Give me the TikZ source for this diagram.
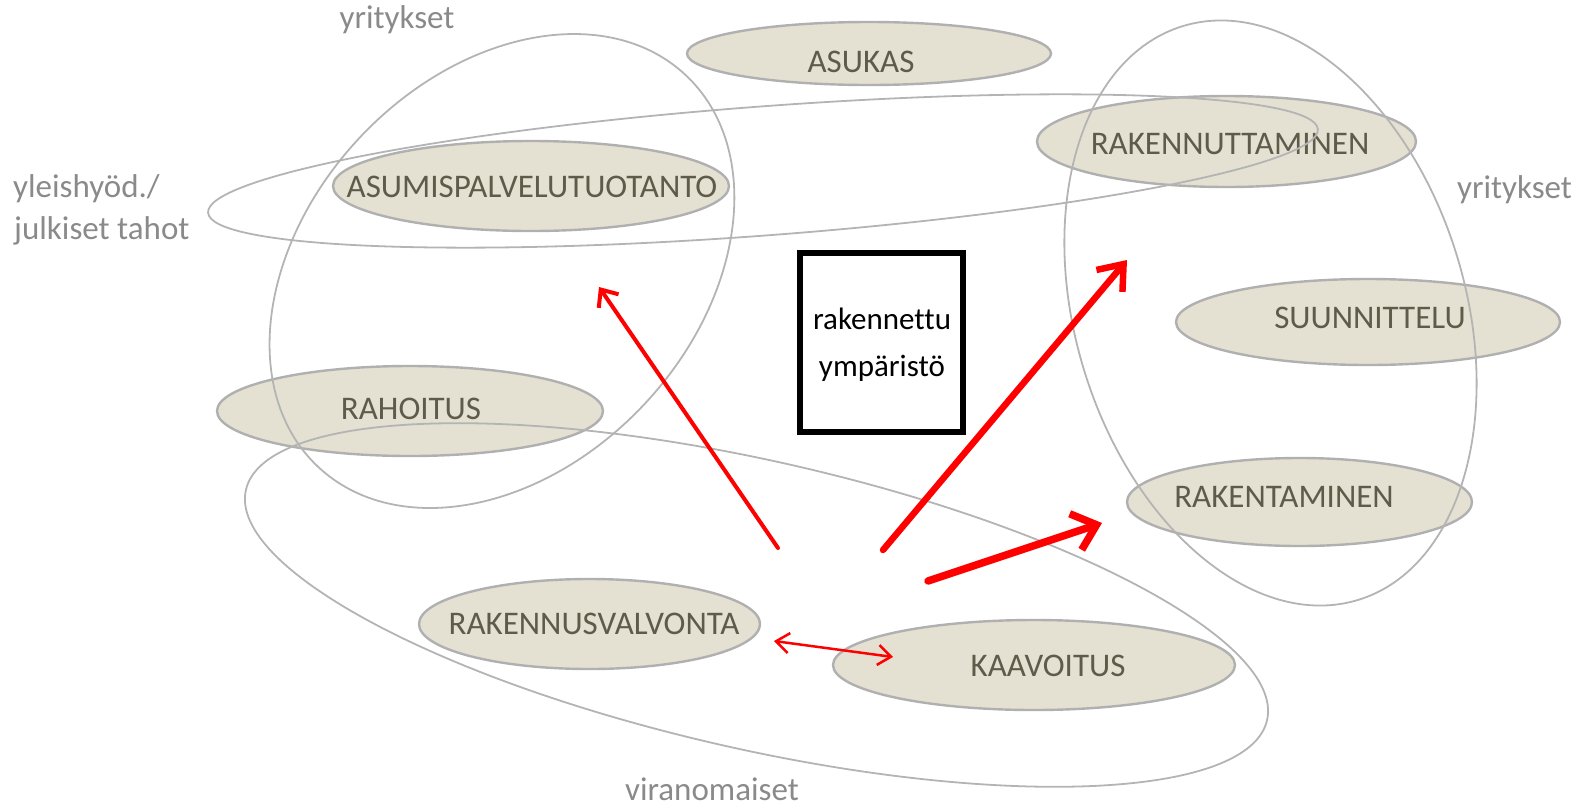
\documentclass[tikz,border=0pt]{standalone}
\usepackage{fontspec}
\setmainfont[Ligatures={NoCommon}]{Carlito}
\usetikzlibrary{shapes.geometric,arrows.meta}
\definecolor{ellfill}{HTML}{E4E1D2}
\definecolor{ellline}{HTML}{B0B0B0}
\definecolor{grpline}{HTML}{B4B4B4}
\definecolor{lbltext}{HTML}{5E5B4A}
\definecolor{grptext}{HTML}{8A8A8A}
\definecolor{arrred}{HTML}{FF0000}
\tikzset{
  blob/.style={ellipse, fill=ellfill, draw=ellline, line width=2.4pt, inner sep=0pt},
  lbl/.style={inner sep=0pt, text=lbltext, font=\fontsize{33}{40}\selectfont, text height=21.3pt, text depth=0pt},
  grp/.style={inner sep=0pt, text=grptext, font=\fontsize{33}{40}\selectfont, anchor=base},
  grpell/.style={draw=grpline, line width=1.8pt},
  redarr/.style={draw=arrred, line cap=round},
  boxtext/.style={inner sep=0pt, anchor=base, font=\fontsize{31}{36}\selectfont},
}
\begin{document}
\begin{tikzpicture}[x=1pt,y=-1pt]
\useasboundingbox (0,0) rectangle (1579,809);
% filled ellipses
\node[blob, minimum width=364pt, minimum height=63pt] (asukas) at (869,53.5) {};
\node[blob, minimum width=396pt, minimum height=90pt] (asumis) at (531,186) {};
\node[blob, minimum width=379pt, minimum height=91pt] (rakennut) at (1226.5,141.5) {};
\node[blob, minimum width=384pt, minimum height=86pt] (suunn) at (1368,322) {};
\node[blob, minimum width=386pt, minimum height=90pt] (rahoitus) at (410,411) {};
\node[blob, minimum width=345pt, minimum height=88pt] (rakent) at (1299.5,502) {};
\node[blob, minimum width=341pt, minimum height=90pt] (valvonta) at (589.5,624) {};
\node[blob, minimum width=402pt, minimum height=90pt] (kaavoitus) at (1034,665) {};
% labels
\node[lbl] (tasukas) at (861,62) {ASUKAS};
\node[lbl] (tasumis) at (532,187) {ASUMISPALVELUTUOTANTO};
\node[lbl] (trakennut) at (1230,144) {RAKENNUTTAMINEN};
\node[lbl] (tsuunn) at (1370,318) {SUUNNITTELU};
\node[lbl] (trahoitus) at (411,409) {RAHOITUS};
\node[lbl] (trakent) at (1284,497) {RAKENTAMINEN};
\node[lbl] (tvalvonta) at (594,624) {RAKENNUSVALVONTA};
\node[lbl] (tkaavoitus) at (1048,666) {KAAVOITUS};
% group outlines
\coordinate (cl) at (502,271);
\coordinate (clong) at (763,171);
\coordinate (cr) at (1270.5,313);
\coordinate (cb) at (756.5,605);
\draw[grpell, rotate around={46.8:(cl)}] (cl) ellipse [x radius=268.6pt, y radius=195pt];
\draw[grpell, rotate around={4.3:(clong)}] (clong) ellipse [x radius=556.5pt, y radius=64.5pt];
\draw[grpell, rotate around={17:(cr)}] (cr) ellipse [x radius=195pt, y radius=300pt];
\draw[grpell, rotate around={-12.7:(cb)}] (cb) ellipse [x radius=523.4pt, y radius=144.3pt];
% group labels
\node[grp] (gyrit1) at (397,28) {yritykset};
\node[grp, anchor=base west] (gyleis) at (13,197) {yleishyöd./};
\node[grp, anchor=base west] (gjulk) at (14,239) {julkiset tahot};
\node[grp] (gyrit2) at (1514.5,198) {yritykset};
\node[grp] (gviran) at (712,800) {viranomaiset};
% central box
\node[draw=black, line width=6pt, minimum width=163pt, minimum height=179pt, inner sep=0pt] (box) at (881.5,342.5) {};
\node[boxtext] (boxt1) at (882,329) {rakennettu};
\node[boxtext] (boxt2) at (882,376) {ympäristö};
% arrows
\coordinate (a1s) at (778,548);
\coordinate (a1e) at (599,287);
\coordinate (a2s) at (883,550);
\coordinate (a2e) at (1127,260);
\coordinate (a3s) at (928,581);
\coordinate (a3e) at (1102,523);
\coordinate (a4s) at (774,641);
\coordinate (a4e) at (893,657);
\draw[redarr, line width=4pt, -{Straight Barb[length=14pt,width=24pt]}] (a1s) -- (a1e);
\draw[redarr, line width=6.5pt, -{Straight Barb[length=22pt,width=34pt]}] (a2s) -- (a2e);
\draw[redarr, line width=7.5pt, -{Straight Barb[length=22pt,width=38pt]}] (a3s) -- (a3e);
\draw[redarr, line width=2.5pt, {Straight Barb[length=13pt,width=20pt]}-{Straight Barb[length=13pt,width=20pt]}] (a4s) -- (a4e);
\end{tikzpicture}
\end{document}
